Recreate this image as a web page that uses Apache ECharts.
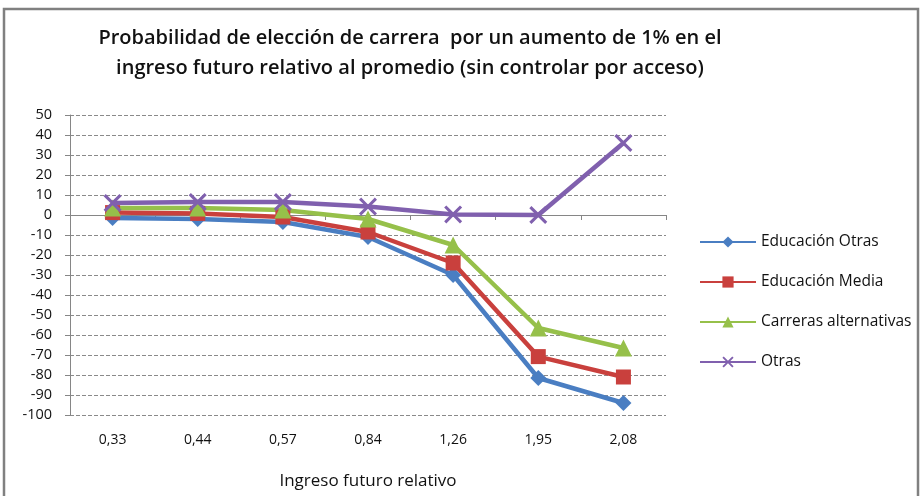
<!DOCTYPE html>
<html>
<head>
<meta charset="utf-8">
<script src="https://cdn.jsdelivr.net/npm/echarts@6/dist/echarts.min.js"></script>
<style>
  html, body { margin: 0; padding: 0; background: #fff; }
  #chart { width: 921px; height: 496px; }
</style>
</head>
<body>
<div id="chart"></div>
<script>
// Ingreso futuro relativo (eje X)
const categories = ['0,33', '0,44', '0,57', '0,84', '1,26', '1,95', '2,08'];

// Variación de probabilidad por serie
const educacionOtras = [-1.5, -2, -3.5, -11, -30, -81.5, -94];
const educacionMedia = [1.2, 0.8, -1, -8.5, -24, -70.8, -81];
const carrerasAlternativas = [3.5, 3.5, 2.5, -2, -15, -56.5, -66.5];
const otras = [6, 6.5, 6.5, 4.2, 0.3, 0, 36];

const seriesNames = ['Educación Otras', 'Educación Media', 'Carreras alternativas', 'Otras'];

const yMin = -100, yMax = 50, yStep = 10;

const FONT = '"Open Sans", "Noto Sans", sans-serif';
const AXIS_GREY = '#868686';

// Marca en forma de aspa para la serie "Otras"
const crossPath = 'path://M0,1.2 L1.2,0 L5,3.8 L8.8,0 L10,1.2 L6.2,5 L10,8.8 L8.8,10 L5,6.2 L1.2,10 L0,8.8 L3.8,5 Z';

const colors = ['#4A7EC2', '#C9403D', '#96C04A', '#8060AE'];

function lineSeries(name, data, color, symbol, size) {
  return {
    name: name,
    type: 'line',
    xAxisIndex: 0,
    data: data,
    symbol: symbol,
    symbolSize: size,
    showAllSymbol: true,
    lineStyle: { width: 4.5, color: color },
    itemStyle: { color: color },
    emphasis: { disabled: true },
    animation: false
  };
}

const chart = echarts.init(document.getElementById('chart'), null, { renderer: 'canvas' });

chart.setOption({
  backgroundColor: '#ffffff',
  animation: false,
  title: {
    text: 'Probabilidad de elección de carrera  por un aumento de 1% en el\ningreso futuro relativo al promedio (sin controlar por acceso)',
    left: 405,
    top: 18,
    textAlign: 'center',
    textStyle: {
      fontFamily: FONT,
      fontWeight: 600,
      fontSize: 20,
      lineHeight: 30,
      color: '#111'
    }
  },
  graphic: [{
    type: 'rect',
    shape: { x: 4, y: 9, width: 914, height: 500 },
    style: { fill: 'none', stroke: '#808080', lineWidth: 2.5 },
    silent: true,
    z: -1
  }],
  legend: {
    orient: 'vertical',
    left: 694,
    top: 229,
    itemWidth: 56,
    itemHeight: 14,
    itemGap: 24,
    data: seriesNames,
    textStyle: { fontFamily: FONT, fontSize: 15.5, color: '#111' }
  },
  grid: { left: 70, right: 255, top: 115, bottom: 81 },
  xAxis: [{
    type: 'category',
    data: categories,
    position: 'bottom',
    axisLine: { show: false, onZero: false },
    axisTick: { show: false },
    axisLabel: { margin: 18, fontFamily: FONT, fontSize: 14, color: '#111' },
    name: 'Ingreso futuro relativo',
    nameLocation: 'middle',
    nameGap: 58,
    nameTextStyle: { fontFamily: FONT, fontSize: 17, color: '#111' }
  }, {
    // línea del cero con sus marcas de categoría
    type: 'category',
    data: categories,
    position: 'bottom',
    axisLine: { show: true, onZero: true, lineStyle: { color: AXIS_GREY, width: 1 } },
    axisTick: { show: true, length: 5, inside: false, lineStyle: { color: AXIS_GREY } },
    axisLabel: { show: false },
    splitLine: { show: false }
  }],
  yAxis: {
    type: 'value',
    min: yMin,
    max: yMax,
    interval: yStep,
    axisLine: { show: true, lineStyle: { color: AXIS_GREY, width: 1 } },
    axisTick: { show: true, length: 5, lineStyle: { color: AXIS_GREY } },
    axisLabel: { margin: 18, fontFamily: FONT, fontSize: 14.5, color: '#111' },
    splitLine: { show: true, lineStyle: { color: '#8a8a8a', type: [4, 2], width: 1 } }
  },
  series: [
    lineSeries(seriesNames[0], educacionOtras, colors[0], 'diamond', 16),
    lineSeries(seriesNames[1], educacionMedia, colors[1], 'rect', 15),
    lineSeries(seriesNames[2], carrerasAlternativas, colors[2], 'triangle', 17),
    lineSeries(seriesNames[3], otras, colors[3], crossPath, 18)
  ]
});
</script>
</body>
</html>
